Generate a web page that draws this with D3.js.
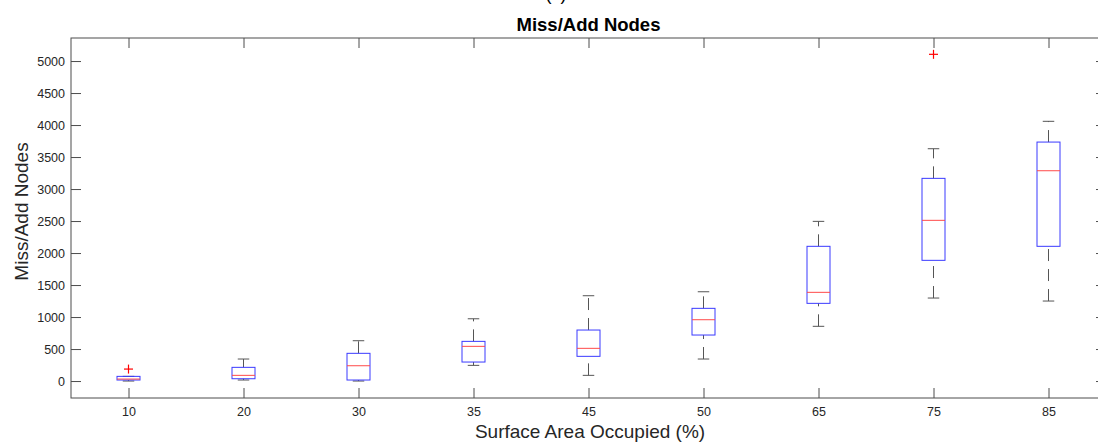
<!DOCTYPE html>
<html>
<head>
<meta charset="utf-8">
<script src="https://cdn.jsdelivr.net/npm/d3@7"></script>
<style>
  html, body { margin: 0; padding: 0; background: #fff; }
  svg { display: block; font-family: "Liberation Sans", Arial, Helvetica, sans-serif; }
</style>
</head>
<body>
<svg id="chart" width="1098" height="444"></svg>
<script>
// ---- data ----
const categories   = ["10", "20", "30", "35", "45", "50", "65", "75", "85"];
const lowerWhisker = [0, 16, 0, 245, 89, 344, 855, 1297, 1250];
const q1Values     = [16, 36, 16, 297, 386, 719, 1214, 1886, 2105];
const medianValues = [31, 89, 239, 542, 511, 958, 1386, 2511, 3286];
const q3Values     = [73, 214, 433, 620, 797, 1136, 2105, 3167, 3734];
const upperWhisker = [73, 344, 630, 973, 1333, 1395, 2495, 3630, 4058];
const outlierCats  = ["10", "75"];
const outlierVals  = [187, 5105];
const yTicks       = [0, 500, 1000, 1500, 2000, 2500, 3000, 3500, 4000, 4500, 5000];
const yDomain      = [-265, 5360];

const titleText  = "Miss/Add Nodes";
const xLabelText = "Surface Area Occupied (%)";
const yLabelText = "Miss/Add Nodes";
const panelText  = "(c)";

// ---- layout ----
const svg = d3.select("#chart");
const L = 71, R = 1106, T = 38, B = 398;
const tickLen = 10;

const x = d3.scalePoint().domain(categories).range([L, R]).padding(0.5);
const y = d3.scaleLinear().domain(yDomain).range([B, T]);
const step = x.step();
const boxW = step * 0.2;
const capW = boxW / 2;

const boxes = categories.map((c, i) => ({
  c, lo: lowerWhisker[i], q1: q1Values[i], med: medianValues[i], q3: q3Values[i], hi: upperWhisker[i]
}));
const outliers = outlierCats.map((c, i) => ({ c, v: outlierVals[i] }));

const frameColor = "#4d4d4d";

// axes
const yAxis = d3.axisLeft(y).tickValues(yTicks).tickFormat(d3.format("d"))
  .tickSizeInner(-tickLen).tickSizeOuter(0).tickPadding(6);
const gy = svg.append("g").attr("transform", `translate(${L},0)`).call(yAxis);
const yAxisR = d3.axisRight(y).tickValues(yTicks).tickSizeInner(-tickLen).tickSizeOuter(0).tickFormat("");
const gyr = svg.append("g").attr("transform", `translate(${R},0)`).call(yAxisR);
const xAxis = d3.axisBottom(x).tickSizeInner(-tickLen).tickSizeOuter(0).tickPadding(9);
const gx = svg.append("g").attr("transform", `translate(0,${B})`).call(xAxis);
const xAxisT = d3.axisTop(x).tickSizeInner(-tickLen).tickSizeOuter(0).tickFormat("");
const gxt = svg.append("g").attr("transform", `translate(0,${T})`).call(xAxisT);

[gy, gyr, gx, gxt].forEach(g => {
  g.select(".domain").remove();
  g.selectAll(".tick line").attr("stroke", frameColor).attr("stroke-width", 1);
  g.selectAll(".tick text").attr("fill", "#262626").attr("font-size", 12.5)
    .attr("font-family", "'Liberation Sans', Arial, sans-serif");
});

// frame
svg.append("rect")
  .attr("x", L).attr("y", T).attr("width", R - L).attr("height", B - T)
  .attr("fill", "none").attr("stroke", frameColor).attr("stroke-width", 1);

// boxes
const gb = svg.append("g");
const bx = gb.selectAll("g.box").data(boxes).join("g").attr("class", "box");

// whiskers (dashed)
bx.append("line")
  .attr("x1", d => x(d.c)).attr("x2", d => x(d.c))
  .attr("y1", d => y(d.q3)).attr("y2", d => y(d.hi))
  .attr("stroke", "#555").attr("stroke-width", 1).attr("stroke-dasharray", "12,8");
bx.append("line")
  .attr("x1", d => x(d.c)).attr("x2", d => x(d.c))
  .attr("y1", d => y(d.lo)).attr("y2", d => y(d.q1))
  .attr("stroke", "#555").attr("stroke-width", 1).attr("stroke-dasharray", "12,8");
// caps
bx.append("line")
  .attr("x1", d => x(d.c) - capW / 2).attr("x2", d => x(d.c) + capW / 2)
  .attr("y1", d => y(d.hi)).attr("y2", d => y(d.hi))
  .attr("stroke", "#555").attr("stroke-width", 1);
bx.append("line")
  .attr("x1", d => x(d.c) - capW / 2).attr("x2", d => x(d.c) + capW / 2)
  .attr("y1", d => y(d.lo)).attr("y2", d => y(d.lo))
  .attr("stroke", "#555").attr("stroke-width", 1);
// box
bx.append("rect")
  .attr("x", d => x(d.c) - boxW / 2).attr("width", boxW)
  .attr("y", d => y(d.q3)).attr("height", d => y(d.q1) - y(d.q3))
  .attr("fill", "none").attr("stroke", "#3a3aff").attr("stroke-width", 1);
// median
bx.append("line")
  .attr("x1", d => x(d.c) - boxW / 2).attr("x2", d => x(d.c) + boxW / 2)
  .attr("y1", d => y(d.med)).attr("y2", d => y(d.med))
  .attr("stroke", "#ff4a4a").attr("stroke-width", 1);

// outliers "+"
const pS = 4.5;
const go = svg.append("g").selectAll("g").data(outliers).join("g");
go.append("line")
  .attr("x1", d => x(d.c) - pS).attr("x2", d => x(d.c) + pS)
  .attr("y1", d => y(d.v)).attr("y2", d => y(d.v))
  .attr("stroke", "#ff0000").attr("stroke-width", 1.2);
go.append("line")
  .attr("x1", d => x(d.c)).attr("x2", d => x(d.c))
  .attr("y1", d => y(d.v) - pS).attr("y2", d => y(d.v) + pS)
  .attr("stroke", "#ff0000").attr("stroke-width", 1.2);

// texts
svg.append("text").attr("x", (L + R) / 2).attr("y", 30.5)
  .attr("text-anchor", "middle").attr("font-size", 18.5).attr("font-weight", "bold")
  .attr("fill", "#000").text(titleText);
svg.append("text").attr("x", 556).attr("y", 0)
  .attr("text-anchor", "middle").attr("font-size", 18).attr("fill", "#000").text(panelText);
svg.append("text").attr("x", 590).attr("y", 438)
  .attr("text-anchor", "middle").attr("font-size", 19).attr("fill", "#262626").text(xLabelText);
svg.append("text").attr("transform", "translate(28.3,211.5) rotate(-90)")
  .attr("text-anchor", "middle").attr("font-size", 19).attr("fill", "#262626").text(yLabelText);
</script>
</body>
</html>
